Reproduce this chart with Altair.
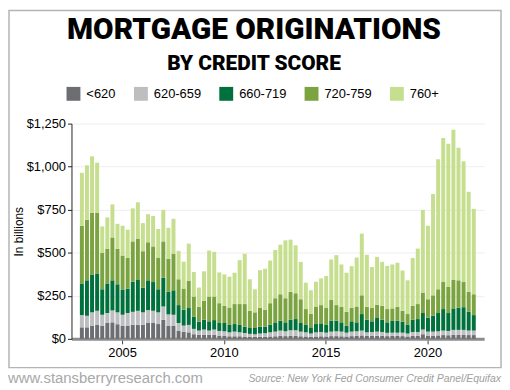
import altair as alt
import pandas as pd

# Quarterly categories 2003Q1 .. 2022Q2
quarters = [f"{y}Q{q}" for y in range(2003, 2023) for q in range(1, 5)][:78]

# Originations, $ billions, by credit score band
lt620 = [67, 67, 77, 81, 77, 92, 96, 85, 77, 77, 82, 82, 82, 92, 92, 86, 111, 77, 77, 48,
         42, 38, 27, 23, 23, 23, 23, 19, 19, 15, 15, 15, 13, 12, 12, 12, 13, 14, 15, 17,
         16, 18, 18, 15, 14, 12, 14, 15, 14, 16, 16, 15, 14, 16, 17, 20, 17, 17, 18, 18,
         16, 17, 17, 16, 14, 17, 18, 27, 19, 19, 20, 22, 21, 24, 24, 24, 22, 22]
s620_659 = [71, 67, 77, 82, 63, 58, 69, 69, 63, 73, 75, 81, 72, 75, 71, 68, 77, 65, 63, 44,
            35, 43, 31, 25, 31, 25, 31, 27, 25, 23, 27, 23, 21, 17, 15, 19, 20, 24, 27, 31,
            28, 32, 32, 27, 24, 19, 24, 25, 22, 26, 28, 27, 22, 26, 27, 28, 21, 23, 24, 22,
            19, 19, 19, 20, 17, 23, 22, 27, 23, 23, 24, 26, 25, 28, 28, 28, 26, 26]
s660_719 = [184, 206, 220, 217, 148, 172, 175, 163, 144, 142, 175, 179, 144, 173, 167, 134, 167, 131, 142, 104,
            92, 98, 70, 52, 57, 54, 55, 46, 48, 43, 44, 43, 37, 34, 36, 40, 38, 45, 50, 58,
            52, 61, 65, 50, 43, 36, 48, 50, 45, 64, 62, 54, 41, 60, 52, 96, 73, 62, 79, 71,
            61, 68, 70, 64, 50, 71, 75, 96, 81, 92, 106, 125, 104, 125, 129, 132, 109, 90]
s720_759 = [335, 351, 359, 353, 211, 200, 249, 205, 200, 178, 234, 238, 211, 221, 207, 184, 211, 193, 213, 150,
            123, 157, 118, 86, 110, 144, 137, 115, 100, 101, 116, 121, 131, 100, 91, 108, 98, 124, 144, 153,
            140, 162, 150, 138, 92, 79, 102, 106, 98, 120, 90, 90, 80, 77, 92, 109, 75, 77, 77, 81,
            77, 73, 80, 63, 63, 81, 87, 119, 107, 119, 138, 157, 151, 165, 159, 146, 116, 121]
s760 = [307, 317, 327, 290, 154, 183, 192, 146, 173, 164, 192, 213, 163, 163, 177, 166, 183, 179, 202, 165,
        156, 217, 142, 112, 171, 267, 259, 179, 182, 179, 182, 255, 292, 183, 134, 220, 238, 248, 280, 288,
        336, 303, 278, 217, 153, 136, 144, 155, 186, 235, 290, 246, 227, 243, 284, 358, 302, 238, 278, 255,
        251, 255, 256, 234, 196, 278, 322, 480, 427, 588, 755, 837, 832, 872, 770, 701, 581, 496]

series_names = ["<620", "620-659", "660-719", "720-759", "760+"]
series_values = [lt620, s620_659, s660_719, s720_759, s760]
colors = ["#6d6e71", "#bdbec0", "#00713d", "#7ba33f", "#c6df8e"]

year_ticks = ["2005Q1", "2010Q1", "2015Q1", "2020Q1"]
y_ticks = [0, 250, 500, 750, 1000, 1250]
# empty slots at both ends of the time axis (no data)
x_domain = ["pre"] + quarters + ["post"]

rows = []
for i, (name, vals) in enumerate(zip(series_names, series_values)):
    for q, v in zip(quarters, vals):
        rows.append({"quarter": q, "score": name, "value": v, "ord": i})
df = pd.DataFrame(rows)

FONT = "Liberation Sans"

bars = alt.Chart(df).mark_bar().encode(
    x=alt.X(
        "quarter:N",
        scale=alt.Scale(domain=x_domain, paddingInner=0.22, paddingOuter=0.65),
        axis=alt.Axis(
            values=year_ticks,
            labelExpr="slice(datum.value, 0, 4)",
            labelAngle=0,
            title=None,
            grid=False,
            domainColor="#8c8c8c",
            domainWidth=3,
            tickColor="#444444",
            tickSize=5,
            tickWidth=1,
            labelFont=FONT,
            labelFontSize=13,
            labelColor="black",
            labelPadding=3,
        ),
    ),
    y=alt.Y(
        "value:Q",
        stack="zero",
        scale=alt.Scale(domain=[0, 1250], nice=False),
        axis=alt.Axis(
            values=y_ticks,
            labelExpr="'$' + format(datum.value, ',')",
            title="In billions",
            titleFont=FONT,
            titleFontSize=12,
            titleFontWeight="normal",
            titleColor="black",
            titlePadding=1,
            labelFont=FONT,
            labelFontSize=13,
            labelColor="black",
            labelPadding=2,
            tickSize=4,
            tickColor="#222222",
            domainColor="#222222",
            gridColor="#eeeeee",
            gridWidth=1,
        ),
    ),
    color=alt.Color(
        "score:N",
        sort=series_names,
        scale=alt.Scale(domain=series_names, range=colors),
        legend=alt.Legend(
            orient="none",
            legendX=-5,
            legendY=-37,
            direction="horizontal",
            title=None,
            symbolType="square",
            symbolSize=196,
            symbolStrokeWidth=0,
            labelFont=FONT,
            labelFontSize=13,
            labelColor="black",
            labelOffset=6,
            columnPadding=18,
        ),
    ),
    order=alt.Order("ord:Q", sort="ascending"),
)

border = alt.Chart(pd.DataFrame({"k": [0]})).mark_rect(
    fill="transparent", stroke="#b4b4b4", strokeWidth=1.5
).encode(
    x=alt.value(-63), x2=alt.value(433), y=alt.value(-114), y2=alt.value(246)
)

site = alt.Chart(pd.DataFrame({"t": ["www.stansberryresearch.com"]})).mark_text(
    align="left", baseline="alphabetic", font=FONT, fontSize=15, color="#a8a8a8"
).encode(text="t:N", x=alt.value(-64), y=alt.value(261))

source = alt.Chart(pd.DataFrame({"t": ["Source: New York Fed Consumer Credit Panel/Equifax"]})).mark_text(
    align="right", baseline="alphabetic", font=FONT, fontSize=10.5, fontStyle="italic", color="#a0a0a0"
).encode(text="t:N", x=alt.value(433), y=alt.value(260))

chart = alt.layer(border, bars, site, source).properties(
    width=416,
    height=217,
    padding={"left": 64, "top": 115, "right": 18, "bottom": 48},
    autosize=alt.AutoSizeParams(type="none"),
    background="white",
    title=alt.TitleParams(
        text="MORTGAGE ORIGINATIONS",
        subtitle="BY CREDIT SCORE",
        font="Roboto",
        fontSize=30,
        fontWeight=900,
        color="black",
        subtitleFont="Roboto",
        subtitleFontSize=21,
        subtitleFontWeight=900,
        subtitleColor="black",
        subtitlePadding=9,
        anchor="middle",
        frame="group",
        dx=-24,
        dy=65,
        offset=0,
    ),
).configure_view(strokeWidth=0)

chart.save("out.html", embed_options={"renderer": "svg", "actions": False})
